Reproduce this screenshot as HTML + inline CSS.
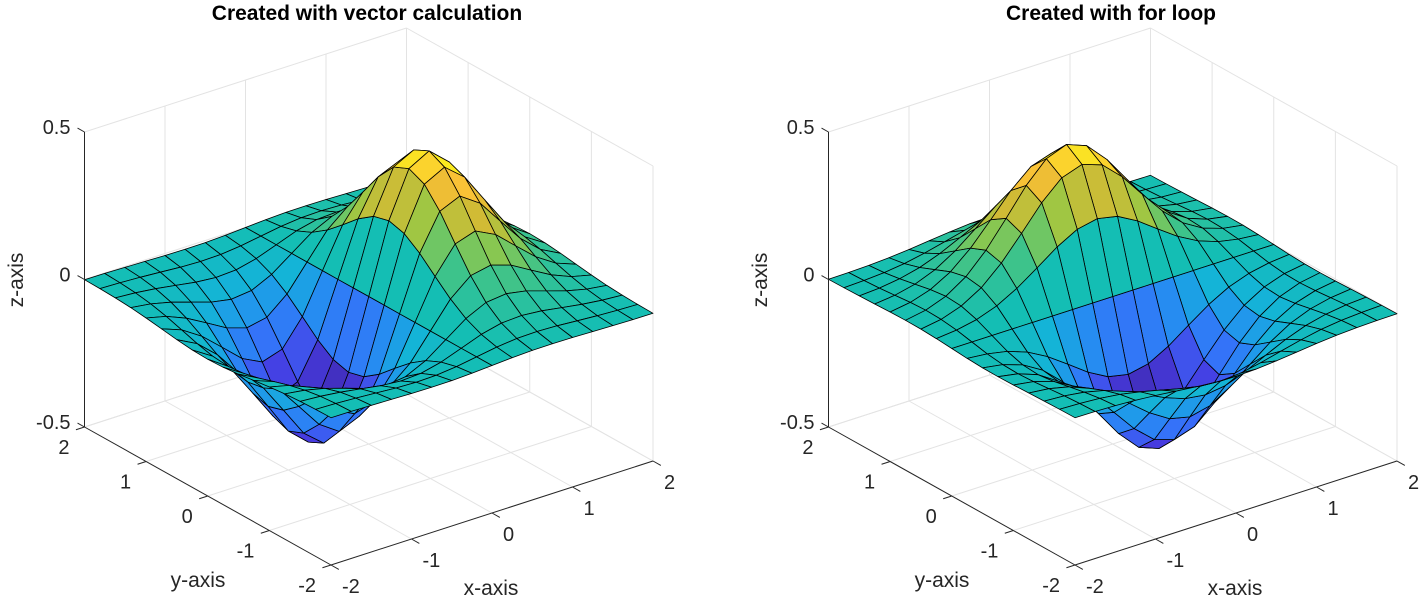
<!DOCTYPE html>
<html><head><meta charset="utf-8"><style>
html,body{margin:0;padding:0;background:#fff;}
svg{display:block;}
text{font-family:"Liberation Sans",Arial,sans-serif;}
</style></head>
<body>
<svg id="fig" width="1422" height="598" viewBox="0 0 1422 598" xmlns="http://www.w3.org/2000/svg">
<g id="p0"></g>
<g id="p1" transform="translate(744,0)"></g>
</svg>
<script>
// grid coordinates
const gridVals = [-2,-1.75,-1.5,-1.25,-1,-0.75,-0.5,-0.25,0,0.25,0.5,0.75,1,1.25,1.5,1.75,2];
// profile along the peak direction: v*exp(-v^2)
const peakProfile = [-0.0366,-0.0819,-0.1581,-0.2620,-0.3679,-0.4274,-0.3894,-0.2348,0,0.2348,0.3894,0.4274,0.3679,0.2620,0.1581,0.0819,0.0366];
// profile across: exp(-v^2)
const bellProfile = [0.0183,0.0468,0.1054,0.2096,0.3679,0.5698,0.7788,0.9394,1,0.9394,0.7788,0.5698,0.3679,0.2096,0.1054,0.0468,0.0183];
const xTicks = [-2,-1,0,1,2];
const yTicks = [-2,-1,0,1,2];
const zTicks = [-0.5,0,0.5];
const zTickLabels = ['-0.5','0','0.5'];
const titles = ['Created with vector calculation','Created with for loop'];

const NS='http://www.w3.org/2000/svg';
const F=[331,565], RX=[653,461], LY=[84.5,427], ZH=295;
function P(x,y,z){
  const a=(x+2)/4, b=(y+2)/4;
  return [F[0]+a*(RX[0]-F[0])+b*(LY[0]-F[0]), F[1]+a*(RX[1]-F[1])+b*(LY[1]-F[1])-(z+0.5)*ZH];
}
const stops=[[0,62,38,168],[0.1,70,60,225],[0.2,55,110,250],[0.3,35,145,240],[0.4,20,180,215],[0.5,20,190,180],[0.6,60,195,140],[0.7,150,200,70],[0.8,220,185,50],[0.9,252,195,55],[1,249,251,20]];
function cmap(t){
  t=Math.max(0,Math.min(1,t));
  for(let i=1;i<stops.length;i++){
    if(t<=stops[i][0]){const s0=stops[i-1],s1=stops[i];const f=(t-s0[0])/(s1[0]-s0[0]);
      return 'rgb('+[1,2,3].map(k=>Math.round(s0[k]+f*(s1[k]-s0[k]))).join(',')+')';}
  }
  return 'rgb(249,251,20)';
}
function mk(tag,attrs,parent){const e=document.createElementNS(NS,tag);for(const k in attrs)e.setAttribute(k,attrs[k]);parent.appendChild(e);return e;}
function line(g,a,b,col,w,name){
  const e=mk('line',{x1:a[0],y1:a[1],x2:b[0],y2:b[1],stroke:col,'stroke-width':w},g);
  
  
  return e;
}
function text(g,x,y,s,anchor,name,extra){
  const e=mk('text',Object.assign({x:x,y:y,'font-size':20,fill:'#262626','text-anchor':anchor},extra||{}),g);
  e.textContent=s;
  
  
  return e;
}
function draw(g,swap,title){
  const GC='#e3e3e3';
  xTicks.forEach(v=>line(g,P(v,2,-0.5),P(v,2,0.5),GC,1,'grid-line'));
  yTicks.forEach(v=>line(g,P(2,v,-0.5),P(2,v,0.5),GC,1,'grid-line'));
  zTicks.forEach(v=>{line(g,P(-2,2,v),P(2,2,v),GC,1,'grid-line');line(g,P(2,2,v),P(2,-2,v),GC,1,'grid-line');});
  xTicks.forEach(v=>line(g,P(v,-2,-0.5),P(v,2,-0.5),GC,1,'grid-line'));
  yTicks.forEach(v=>line(g,P(-2,v,-0.5),P(2,v,-0.5),GC,1,'grid-line'));
  const n=gridVals.length;
  const Z=[];let zmin=1e9,zmax=-1e9;
  for(let j=0;j<n;j++){Z.push([]);for(let i=0;i<n;i++){
    const z=swap? peakProfile[j]*bellProfile[i] : peakProfile[i]*bellProfile[j];
    Z[j].push(z);zmin=Math.min(zmin,z);zmax=Math.max(zmax,z);}}
  const v=[-0.527,-0.687,0.5];
  const faces=[];
  for(let j=0;j<n-1;j++)for(let i=0;i<n-1;i++){
    const xs=[gridVals[i],gridVals[i+1],gridVals[i+1],gridVals[i]];
    const ys=[gridVals[j],gridVals[j],gridVals[j+1],gridVals[j+1]];
    const zs=[Z[j][i],Z[j][i+1],Z[j+1][i+1],Z[j+1][i]];
    let d=0;for(let k=0;k<4;k++)d+=v[0]*xs[k]/4+v[1]*ys[k]/4+v[2]*zs[k];
    faces.push({xs,ys,zs,d,c:Z[j][i]});
  }
  faces.sort((a,b)=>a.d-b.d);
  const sg=mk('g',{},g);
  
  
  faces.forEach(f=>{
    const pts=[0,1,2,3].map(k=>P(f.xs[k],f.ys[k],f.zs[k]).map(q=>q.toFixed(1)).join(',')).join(' ');
    const p=mk('polygon',{points:pts,fill:cmap((f.c-zmin)/(zmax-zmin)),stroke:'#000','stroke-width':0.8,'stroke-linejoin':'round'},sg);
    
    
  });
  const AC='#262626';
  line(g,P(-2,2,-0.5),P(-2,2,0.5),AC,1,'z-axis-line');
  line(g,P(-2,-2,-0.5),P(2,-2,-0.5),AC,1,'x-axis-line');
  line(g,P(-2,-2,-0.5),P(-2,2,-0.5),AC,1,'y-axis-line');
  const ux=[(RX[0]-F[0]),(RX[1]-F[1])],lx=Math.hypot(ux[0],ux[1]);
  const uy=[(LY[0]-F[0]),(LY[1]-F[1])],ly=Math.hypot(uy[0],uy[1]);
  zTicks.forEach((t,k)=>{const p=P(-2,2,t);line(g,p,[p[0]+uy[0]/ly*8,p[1]+uy[1]/ly*8],AC,1,'z-tick');
    text(g,p[0]-14,p[1]+2,zTickLabels[k],'end','z-tick-label');});
  xTicks.forEach(t=>{const p=P(t,-2,-0.5);line(g,p,[p[0]-uy[0]/ly*9,p[1]-uy[1]/ly*9],AC,1,'x-tick');
    text(g,p[0]+11,p[1]+28,String(t),'start','x-tick-label');});
  yTicks.forEach(t=>{const p=P(-2,t,-0.5);line(g,p,[p[0]-ux[0]/lx*9,p[1]-ux[1]/lx*9],AC,1,'y-tick');
    text(g,p[0]-15,p[1]+27,String(t),'end','y-tick-label');});
  text(g,491,595,'x-axis','middle','x-axis-title',{'font-size':21});
  text(g,198,587,'y-axis','middle','y-axis-title',{'font-size':21});
  text(g,23,280,'z-axis','middle','z-axis-title',{'font-size':21,transform:'rotate(-90 23 280)'});
  text(g,367,20,title,'middle','plot-title',{'font-weight':'bold',fill:'#000','font-size':21});
}
draw(document.getElementById('p0'),false,titles[0]);
draw(document.getElementById('p1'),true,titles[1]);
</script>
</body></html>
